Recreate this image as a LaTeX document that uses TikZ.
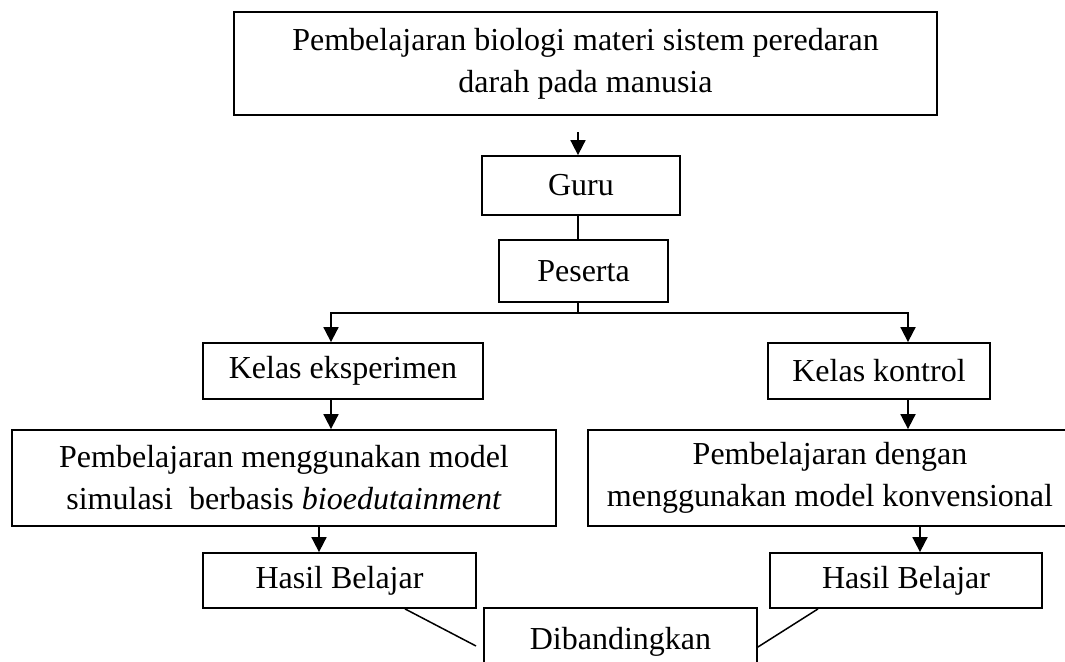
\documentclass[tikz,border=0pt]{standalone}
\usepackage{fontspec}
\setmainfont{Liberation Serif}
\usetikzlibrary{arrows.meta}
\begin{document}
\begin{tikzpicture}[x=1pt,y=-1pt,
  box/.style={draw, line width=1.8pt, inner sep=0pt, align=center, font=\fontsize{32}{42}\selectfont},
  arr/.style={line width=1.8pt, -{Triangle[length=15pt,width=15pt]}},
  ln/.style={line width=1.8pt}]
\clip (0,0) rectangle (1065,661);
\fill[white] (0,0) rectangle (1065,661);
% boxes
\node[box, minimum width=703pt, minimum height=103pt] (top) at (585.5,63.5) {Pembelajaran biologi materi sistem peredaran\\darah pada manusia};
\node[box, minimum width=198pt, minimum height=59pt] (guru) at (581,185.5) {Guru};
\node[box, minimum width=169pt, minimum height=62pt] (peserta) at (583.5,271) {Peserta};
\node[box, minimum width=280pt, minimum height=56pt] (ke) at (343,371) {Kelas eksperimen};
\node[box, minimum width=222pt, minimum height=56pt] (kk) at (879,371) {Kelas kontrol};
\node[box, minimum width=544pt, minimum height=96pt] (pl) at (284,478) {Pembelajaran menggunakan model\\simulasi\ \ berbasis \textit{bioedutainment}};
\node[box, minimum width=484pt, minimum height=96pt] (pr) at (830,478) {Pembelajaran dengan\\menggunakan model konvensional};
\node[box, minimum width=273pt, minimum height=55pt] (hl) at (339.5,580.5) {Hasil Belajar};
\node[box, minimum width=272pt, minimum height=55pt] (hr) at (906,580.5) {Hasil Belajar};
\node[box, minimum width=273pt, minimum height=68pt] (dib) at (620.5,642) {Dibandingkan};
% helper coordinates
\coordinate (s) at (578,132);
\coordinate (bl) at (331,313);
\coordinate (br) at (908,313);
\coordinate (xl) at (319,0);
\coordinate (xr) at (920,0);
\coordinate (dl1) at (405,0);
\coordinate (dl2) at (476,646);
\coordinate (dr1) at (818,0);
\coordinate (dr2) at (0,647);
% connectors
\draw[arr] (s) -- (s |- guru.north);
\draw[ln] (guru.south -| s) -- (peserta.north -| s);
\draw[arr] (peserta.south -| s) |- (bl) -- (bl |- ke.north);
\draw[arr] (peserta.south -| s) |- (br) -- (br |- kk.north);
\draw[arr] (ke.south -| bl) -- (pl.north -| bl);
\draw[arr] (kk.south -| br) -- (pr.north -| br);
\draw[arr] (pl.south -| xl) -- (hl.north -| xl);
\draw[arr] (pr.south -| xr) -- (hr.north -| xr);
\draw[line width=1.5pt] (hl.south -| dl1) -- (dl2);
\draw[line width=1.5pt] (hr.south -| dr1) -- (dib.east |- dr2);
\end{tikzpicture}
\end{document}
